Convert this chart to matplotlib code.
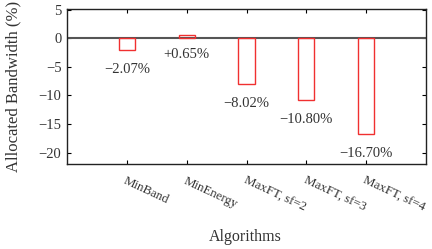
import matplotlib
matplotlib.use("Agg")
import matplotlib.pyplot as plt

categories = ["MinBand", "MinEnergy", "MaxFT, sf=2", "MaxFT, sf=3", "MaxFT, sf=4"]
values = [-2.07, 0.65, -8.02, -10.80, -16.70]
labels = ["\u22122.07%", "+0.65%", "\u22128.02%", "\u221210.80%", "\u221216.70%"]
yticks = [5, 0, -5, -10, -15, -20]

plt.rcParams['font.family'] = ['Liberation Serif', 'DejaVu Serif']

fig = plt.figure(figsize=(4.32, 2.49), dpi=100)
ax = fig.add_axes([67/432, 1-164/249, (426-67)/432, (164-8.7)/249])

x = list(range(1, len(categories) + 1))
ax.bar(x, values, width=0.27, facecolor='none', edgecolor='#f03030', linewidth=1.0, zorder=3)
ax.axhline(0, color='#555555', linewidth=1.5, zorder=2)
for xi, v, lab in zip(x, values, labels):
    ax.text(xi, min(v, 0) - 3.4 if v < 0 else v - 3.45, lab, ha='center', va='center', fontsize=10.5, color='#333333')

ax.set_xlim(0, 6)
ax.set_ylim(-22, 5.2)
ax.set_xticks(x)
ax.set_xticklabels(categories, rotation=-25, ha='left', va='top', rotation_mode='anchor', fontsize=9.3, color='#333333')
ax.set_yticks(yticks)
ax.set_yticklabels([str(t).replace('-', '\u2212') for t in yticks], fontsize=10.5, color='#333333')
ax.tick_params(direction='in', top=True, right=True, length=3, width=0.8)
ax.tick_params(axis='x', pad=8)
ax.tick_params(axis='y', pad=4)
ax.set_ylabel("Allocated Bandwidth (%)", fontsize=12, color='#333333')
ax.yaxis.set_label_coords(-0.128, 0.5)
ax.set_xlabel("Algorithms", fontsize=11.5, color='#333333')
ax.xaxis.set_label_coords(0.497, -0.42)
for s in ax.spines.values():
    s.set_linewidth(1.0)
    s.set_color('#222222')

fig.savefig("out.png", dpi=100)
